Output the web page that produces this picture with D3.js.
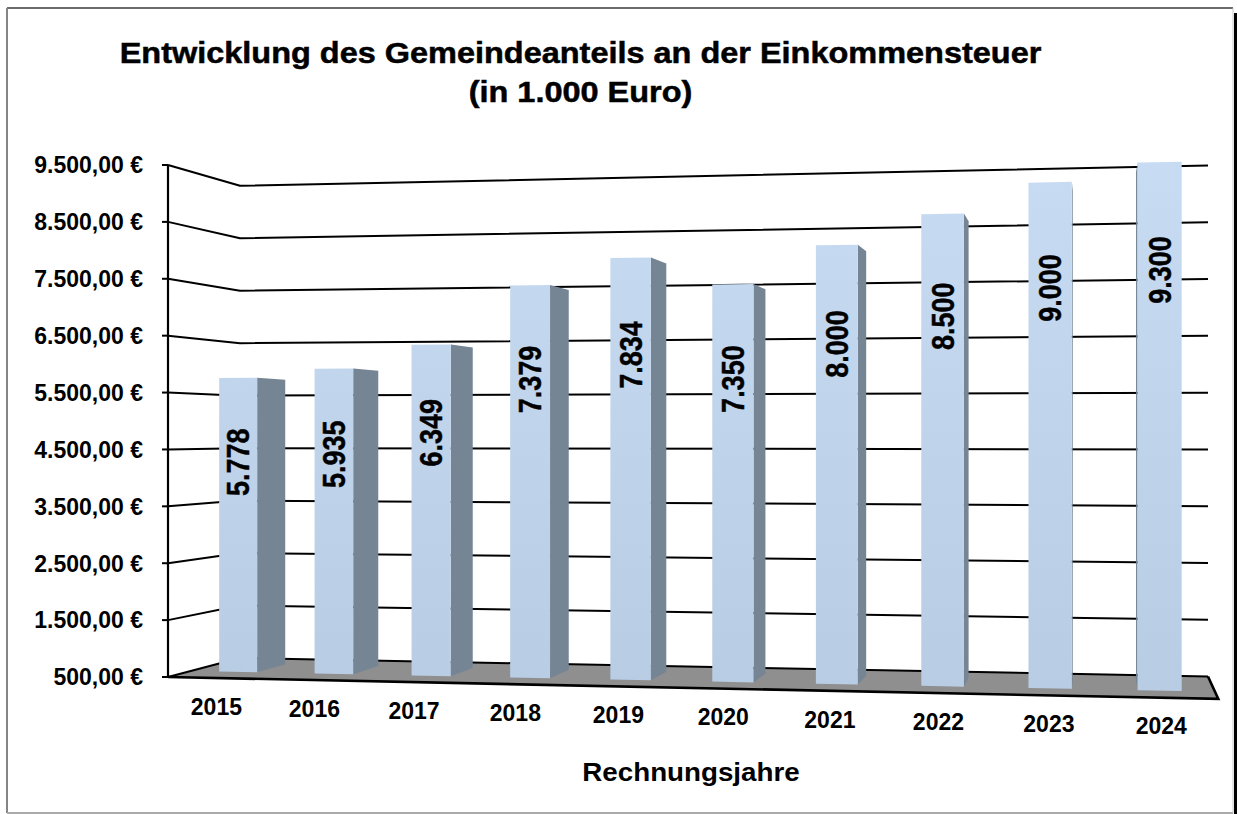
<!DOCTYPE html>
<html>
<head>
<meta charset="utf-8">
<script src="https://cdn.jsdelivr.net/npm/d3@7"></script>
<style>
  html, body { margin: 0; padding: 0; background: #fff; }
  svg { display: block; }
  text { font-family: "Liberation Sans", Arial, Helvetica, sans-serif; font-weight: bold; fill: #000; }
</style>
</head>
<body>
<svg id="chart" width="1237" height="814"></svg>
<script>
// ---------- data ----------
const categories = ["2015", "2016", "2017", "2018", "2019", "2020", "2021", "2022", "2023", "2024"];
const values = [5778, 5935, 6349, 7379, 7834, 7350, 8000, 8500, 9000, 9300];
const tickValues = [500, 1500, 2500, 3500, 4500, 5500, 6500, 7500, 8500, 9500];
const tickLabels = ["500,00 €", "1.500,00 €", "2.500,00 €", "3.500,00 €", "4.500,00 €",
                    "5.500,00 €", "6.500,00 €", "7.500,00 €", "8.500,00 €", "9.500,00 €"];
const titleLines = ["Entwicklung des Gemeindeanteils an der Einkommensteuer", "(in 1.000 Euro)"];
const xAxisTitle = "Rechnungsjahre";

// ---------- layout / perspective ----------
const svg = d3.select("#chart");
const W = 1237, H = 814;

// floor corners on screen (front-left, front-right, back-right, back-left)
const floorQuad = [[168, 677], [1218.3, 698.9], [1208, 676.5], [240, 658]];
const wallTopLeftY = 165; // screen y of the axis maximum at the front-left corner

function squareToQuad(q) {
  const [x0, y0] = q[0], [x1, y1] = q[1], [x2, y2] = q[2], [x3, y3] = q[3];
  const dx1 = x1 - x2, dx2 = x3 - x2, dx3 = x0 - x1 + x2 - x3;
  const dy1 = y1 - y2, dy2 = y3 - y2, dy3 = y0 - y1 + y2 - y3;
  const den = dx1 * dy2 - dx2 * dy1;
  const g = (dx3 * dy2 - dx2 * dy3) / den;
  const h = (dx1 * dy3 - dx3 * dy1) / den;
  return {
    a: x1 - x0 + g * x1, b: x3 - x0 + h * x3, c: x0,
    d: y1 - y0 + g * y1, e: y3 - y0 + h * y3, f: y0, g, h
  };
}
const Hm = squareToQuad(floorQuad);
const horizonY = (Hm.d / Hm.g + Hm.e / Hm.h) / 2;
const camH = (floorQuad[0][1] - horizonY) / (floorQuad[0][1] - wallTopLeftY);

// u: along categories (0..1), w: depth front->back (0..1), t: height (0..1)
function proj(u, w, t) {
  const D = Hm.g * u + Hm.h * w + 1;
  const x = (Hm.a * u + Hm.b * w + Hm.c) / D;
  const y0 = (Hm.d * u + Hm.e * w + Hm.f) / D;
  return [x, y0 - (y0 - horizonY) * t / camH];
}

const xBand = d3.scaleBand().domain(categories).range([0, 1]).paddingInner(0.6).paddingOuter(0.3);
const yScale = d3.scaleLinear().domain([tickValues[0], tickValues[tickValues.length - 1]]).range([0, 1]);
const barFront = 0.3, barBack = 0.72;

const fmt = d3.formatLocale({ decimal: ",", thousands: ".", grouping: [3], currency: ["", " €"] }).format(",d");
const line = d3.line();

// ---------- frame ----------
svg.append("rect").attr("width", W).attr("height", H).attr("fill", "#fff");
svg.append("line").attr("x1", 7).attr("y1", 8).attr("x2", 1233).attr("y2", 8).attr("stroke", "#3a3a3a").attr("stroke-width", 1.5);
svg.append("line").attr("x1", 7).attr("y1", 8).attr("x2", 7).attr("y2", 813).attr("stroke", "#858585").attr("stroke-width", 2);
svg.append("line").attr("x1", 7).attr("y1", 813).attr("x2", 1233).attr("y2", 813).attr("stroke", "#aaaaaa").attr("stroke-width", 2);
svg.append("line").attr("x1", 1233).attr("y1", 8).attr("x2", 1233).attr("y2", 813).attr("stroke", "#c8c8c8").attr("stroke-width", 1);
svg.append("rect").attr("x", 1234).attr("y", 13).attr("width", 3).attr("height", H - 13).attr("fill", "#000");

// ---------- defs ----------
const defs = svg.append("defs");
const grad = defs.append("linearGradient").attr("id", "frontGrad")
  .attr("gradientUnits", "userSpaceOnUse").attr("x1", 0).attr("y1", 160).attr("x2", 0).attr("y2", 695);
grad.append("stop").attr("offset", 0).attr("stop-color", "#c7dcf3");
grad.append("stop").attr("offset", 1).attr("stop-color", "#b8cce4");

// ---------- title ----------
svg.append("text").attr("transform", "translate(580.5,63) scale(1.12,1)")
  .attr("text-anchor", "middle").style("font-size", "29px")
  .attr("stroke", "#000").attr("stroke-width", 0.5).text(titleLines[0]);
svg.append("text").attr("transform", "translate(580.5,102) scale(1.12,1)")
  .attr("text-anchor", "middle").style("font-size", "29px")
  .attr("stroke", "#000").attr("stroke-width", 0.5).text(titleLines[1]);

// ---------- floor ----------
const g = svg.append("g");
g.append("path")
  .attr("d", line([proj(0, 0, 0), proj(1, 0, 0), proj(1, 1, 0), proj(0, 1, 0)]) + "Z")
  .attr("fill", "#8f8f8f");

// ---------- gridlines (side wall + back wall) ----------
tickValues.forEach(v => {
  const t = yScale(v);
  g.append("path").attr("d", line([proj(0, 0, t), proj(0, 1, t), proj(1, 1, t)]))
    .attr("fill", "none").attr("stroke", "#000").attr("stroke-width", 2).attr("stroke-linejoin", "round");
});
// floor front & right edges
g.append("path").attr("d", line([proj(0, 0, 0), proj(1, 0, 0), proj(1, 1, 0)]))
  .attr("fill", "none").attr("stroke", "#000").attr("stroke-width", 2.6).attr("stroke-linejoin", "miter");

// ---------- value axis ----------
g.append("path").attr("d", line([proj(0, 0, 0), proj(0, 0, 1)]))
  .attr("stroke", "#000").attr("stroke-width", 2.2);
tickValues.forEach((v, i) => {
  const [x, y] = proj(0, 0, yScale(v));
  g.append("line").attr("x1", x - 6).attr("x2", x).attr("y1", y).attr("y2", y)
    .attr("stroke", "#000").attr("stroke-width", 2);
  g.append("text").attr("x", x - 25).attr("y", y).attr("dy", "0.36em")
    .attr("text-anchor", "end").style("font-size", "23px").text(tickLabels[i]);
});

// ---------- bars ----------
const bw = xBand.bandwidth();
categories.forEach((c, i) => {
  const u0 = xBand(c), u1 = u0 + bw, t = yScale(values[i]);
  const bg = g.append("g");
  // right side
  if (proj(u1, barBack, 0)[0] > proj(u1, barFront, 0)[0]) {
    bg.append("path").attr("d", line([proj(u1, barFront, 0), proj(u1, barBack, 0), proj(u1, barBack, t), proj(u1, barFront, t)]) + "Z")
      .attr("fill", "#768594");
  }
  // left side
  if (proj(u0, barBack, 0)[0] < proj(u0, barFront, 0)[0]) {
    bg.append("path").attr("d", line([proj(u0, barFront, 0), proj(u0, barBack, 0), proj(u0, barBack, t), proj(u0, barFront, t)]) + "Z")
      .attr("fill", "#768594");
  }
  // top (only if below horizon)
  if (t < camH) {
    bg.append("path").attr("d", line([proj(u0, barFront, t), proj(u1, barFront, t), proj(u1, barBack, t), proj(u0, barBack, t)]) + "Z")
      .attr("fill", "#d3e2f4");
  }
  // front
  bg.append("path").attr("d", line([proj(u0, barFront, 0), proj(u1, barFront, 0), proj(u1, barFront, t), proj(u0, barFront, t)]) + "Z")
    .attr("fill", "url(#frontGrad)");
  // value label (placed inside the bar, near its top end)
  const [cx, topY] = proj(u0 + bw / 2, barFront, t);
  const botY = proj(u0 + bw / 2, barFront, 0)[1];
  const offset = 55 + 0.1 * (botY - topY);
  bg.append("text")
    .attr("transform", `translate(${cx},${topY + offset}) scale(1.14,1) rotate(-90)`)
    .attr("text-anchor", "middle").attr("dy", "0.36em").style("font-size", "27px")
    .attr("stroke", "#000").attr("stroke-width", 0.4)
    .text(fmt(values[i]));
});

// ---------- category labels ----------
categories.forEach(c => {
  const [x, y] = proj(xBand(c) + bw / 2, 0, 0);
  g.append("text").attr("x", x).attr("y", y + 28.5).attr("dy", "0.36em")
    .attr("text-anchor", "middle").style("font-size", "23px").text(c);
});

// axis title
svg.append("text").attr("transform", "translate(691,781) scale(1.11,1)")
  .attr("text-anchor", "middle").style("font-size", "25px").text(xAxisTitle);
</script>
</body>
</html>
